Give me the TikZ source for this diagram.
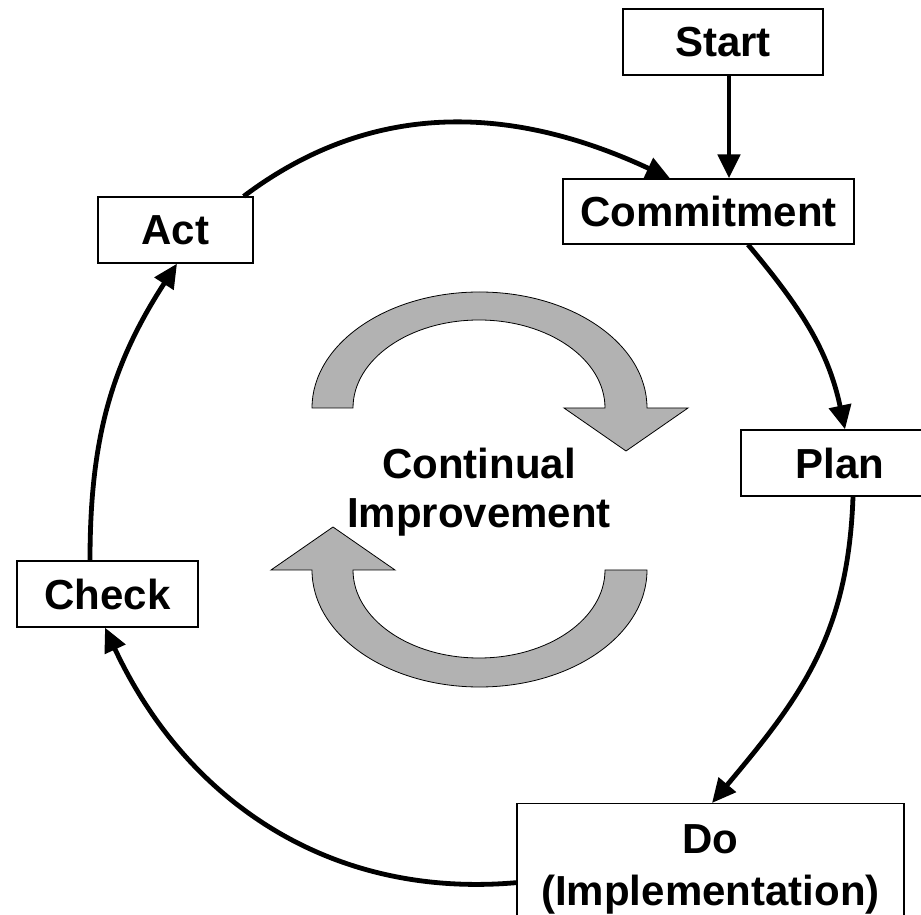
\documentclass[tikz,border=0pt]{standalone}
\usepackage{fontspec}
\setmainfont{Liberation Sans}
\usetikzlibrary{arrows.meta}
\begin{document}
\begin{tikzpicture}[x=1pt,y=1pt,
  box/.style={draw=black,line width=1.3pt,fill=white,inner sep=0pt,align=center,font=\fontsize{42}{50}\selectfont\bfseries},
  flow/.style={line width=4.8pt,-{Triangle[length=24pt,width=22pt]}},
  cyc/.style={draw=black,line width=0.8pt,fill=gray!60}]
\useasboundingbox (0,0) rectangle (921,914);
\clip (0,0) rectangle (921,914);
% boxes
\node[box,minimum width=200pt,minimum height=66pt] (start) at (723,872) {Start};
\node[box,minimum width=291pt,minimum height=65pt] (commit) at (708.5,702.5) {Commitment};
\node[box,minimum width=155pt,minimum height=66pt] (act) at (175.5,684) {Act};
\node[box,minimum width=181pt,minimum height=66pt] (check) at (107.5,320) {Check};
\node[box,minimum width=198pt,minimum height=66pt] (plan) at (840,451) {Plan};
\node[box,font=\fontsize{42}{52}\selectfont\bfseries,minimum width=387pt,minimum height=131pt,anchor=north] (do) at (710.5,111) {Do\\(Implementation)};
% central curved arrows
\path[cyc] (312,506) arc[start angle=180,end angle=0,x radius=167.5pt,y radius=116pt]
  -- (688,506) -- (626,463) -- (564,506) -- (605,506)
  arc[start angle=0,end angle=180,x radius=126pt,y radius=88pt] -- cycle;
\path[cyc] (647,344) arc[start angle=0,end angle=-180,x radius=167.5pt,y radius=117pt]
  -- (271,344) -- (333,387) -- (395,344) -- (353,344)
  arc[start angle=180,end angle=360,x radius=126pt,y radius=88pt] -- cycle;
\node[font=\fontsize{42}{49}\selectfont\bfseries,align=center,inner sep=0pt] (ci) at (479,422) {Continual\\Improvement};
% connectors
\draw[flow] ([xshift=6pt]start.south) -- ([xshift=20.5pt]commit.north);
\draw[flow] ([xshift=-10pt]act.north east) to[out=37,in=155] ([xshift=-38.5pt]commit.north);
\draw[flow] ([xshift=39.5pt]commit.south) to[out=-50,in=102] ([xshift=5pt]plan.north);
\draw[flow] ([xshift=13pt]plan.south) to[out=-92,in=50,looseness=1.05] ([xshift=1.5pt]do.north);
\draw[flow] ([yshift=-13.5pt]do.west) to[out=185,in=-65] ([xshift=-2.5pt]check.south);
\draw[flow] ([xshift=-17.5pt]check.north) to[out=90,in=237] ([xshift=1.5pt]act.south);
\end{tikzpicture}
\end{document}
